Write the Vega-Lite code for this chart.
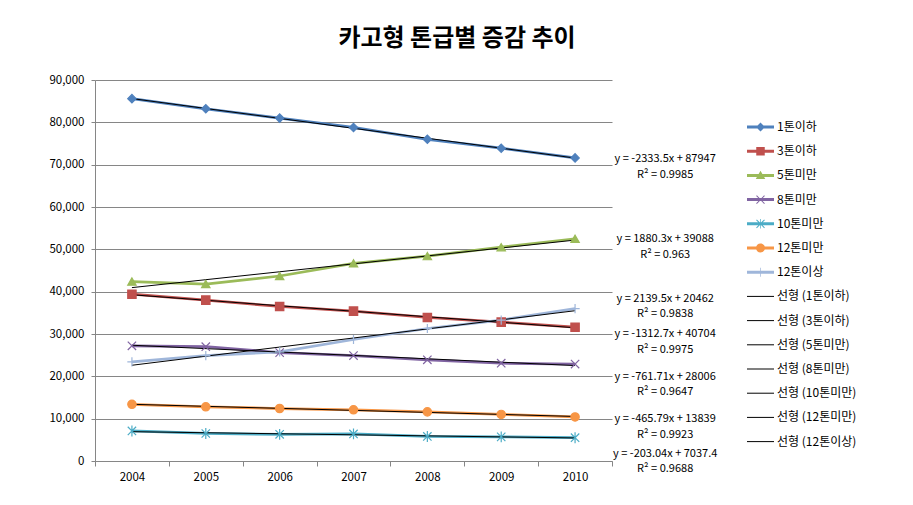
{
  "$schema": "https://vega.github.io/schema/vega-lite/v6.json",
  "width": 517,
  "height": 381,
  "autosize": {"type": "none"},
  "padding": {"left": 95, "top": 80, "right": 301, "bottom": 44},
  "background": "white",
  "title": {"text": "카고형 톤급별 증감 추이", "font": "Noto Sans CJK KR", "fontSize": 24, "fontWeight": "bold", "color": "black", "anchor": "middle", "dx": 103.5, "offset": 23},
  "config": {
    "view": {"stroke": null},
    "font": "Noto Sans CJK KR",
    "axis": {"labelFont": "Noto Sans CJK KR", "labelColor": "black", "labelFontSize": 11.5, "domainColor": "#868686", "tickColor": "#868686", "gridColor": "#868686", "title": null}
  },
  "datasets": {
    "main": [
      {"year": 2004, "series": "1톤이하", "trend": "선형 (1톤이하)", "value": 85600},
      {"year": 2005, "series": "1톤이하", "trend": "선형 (1톤이하)", "value": 83200},
      {"year": 2006, "series": "1톤이하", "trend": "선형 (1톤이하)", "value": 81000},
      {"year": 2007, "series": "1톤이하", "trend": "선형 (1톤이하)", "value": 78800},
      {"year": 2008, "series": "1톤이하", "trend": "선형 (1톤이하)", "value": 76000},
      {"year": 2009, "series": "1톤이하", "trend": "선형 (1톤이하)", "value": 73900},
      {"year": 2010, "series": "1톤이하", "trend": "선형 (1톤이하)", "value": 71600},
      {"year": 2004, "series": "3톤이하", "trend": "선형 (3톤이하)", "value": 39400},
      {"year": 2005, "series": "3톤이하", "trend": "선형 (3톤이하)", "value": 38000},
      {"year": 2006, "series": "3톤이하", "trend": "선형 (3톤이하)", "value": 36500},
      {"year": 2007, "series": "3톤이하", "trend": "선형 (3톤이하)", "value": 35400},
      {"year": 2008, "series": "3톤이하", "trend": "선형 (3톤이하)", "value": 33900},
      {"year": 2009, "series": "3톤이하", "trend": "선형 (3톤이하)", "value": 32800},
      {"year": 2010, "series": "3톤이하", "trend": "선형 (3톤이하)", "value": 31600},
      {"year": 2004, "series": "5톤미만", "trend": "선형 (5톤미만)", "value": 42400},
      {"year": 2005, "series": "5톤미만", "trend": "선형 (5톤미만)", "value": 41800},
      {"year": 2006, "series": "5톤미만", "trend": "선형 (5톤미만)", "value": 43700},
      {"year": 2007, "series": "5톤미만", "trend": "선형 (5톤미만)", "value": 46700},
      {"year": 2008, "series": "5톤미만", "trend": "선형 (5톤미만)", "value": 48400},
      {"year": 2009, "series": "5톤미만", "trend": "선형 (5톤미만)", "value": 50500},
      {"year": 2010, "series": "5톤미만", "trend": "선형 (5톤미만)", "value": 52500},
      {"year": 2004, "series": "8톤미만", "trend": "선형 (8톤미만)", "value": 27200},
      {"year": 2005, "series": "8톤미만", "trend": "선형 (8톤미만)", "value": 27000},
      {"year": 2006, "series": "8톤미만", "trend": "선형 (8톤미만)", "value": 25600},
      {"year": 2007, "series": "8톤미만", "trend": "선형 (8톤미만)", "value": 24900},
      {"year": 2008, "series": "8톤미만", "trend": "선형 (8톤미만)", "value": 23900},
      {"year": 2009, "series": "8톤미만", "trend": "선형 (8톤미만)", "value": 23100},
      {"year": 2010, "series": "8톤미만", "trend": "선형 (8톤미만)", "value": 22900},
      {"year": 2004, "series": "10톤미만", "trend": "선형 (10톤미만)", "value": 7100},
      {"year": 2005, "series": "10톤미만", "trend": "선형 (10톤미만)", "value": 6500},
      {"year": 2006, "series": "10톤미만", "trend": "선형 (10톤미만)", "value": 6300},
      {"year": 2007, "series": "10톤미만", "trend": "선형 (10톤미만)", "value": 6400},
      {"year": 2008, "series": "10톤미만", "trend": "선형 (10톤미만)", "value": 5800},
      {"year": 2009, "series": "10톤미만", "trend": "선형 (10톤미만)", "value": 5700},
      {"year": 2010, "series": "10톤미만", "trend": "선형 (10톤미만)", "value": 5500},
      {"year": 2004, "series": "12톤미만", "trend": "선형 (12톤미만)", "value": 13400},
      {"year": 2005, "series": "12톤미만", "trend": "선형 (12톤미만)", "value": 12800},
      {"year": 2006, "series": "12톤미만", "trend": "선형 (12톤미만)", "value": 12400},
      {"year": 2007, "series": "12톤미만", "trend": "선형 (12톤미만)", "value": 12100},
      {"year": 2008, "series": "12톤미만", "trend": "선형 (12톤미만)", "value": 11600},
      {"year": 2009, "series": "12톤미만", "trend": "선형 (12톤미만)", "value": 11000},
      {"year": 2010, "series": "12톤미만", "trend": "선형 (12톤미만)", "value": 10400},
      {"year": 2004, "series": "12톤이상", "trend": "선형 (12톤이상)", "value": 23400},
      {"year": 2005, "series": "12톤이상", "trend": "선형 (12톤이상)", "value": 24900},
      {"year": 2006, "series": "12톤이상", "trend": "선형 (12톤이상)", "value": 25800},
      {"year": 2007, "series": "12톤이상", "trend": "선형 (12톤이상)", "value": 28700},
      {"year": 2008, "series": "12톤이상", "trend": "선형 (12톤이상)", "value": 31300},
      {"year": 2009, "series": "12톤이상", "trend": "선형 (12톤이상)", "value": 33300},
      {"year": 2010, "series": "12톤이상", "trend": "선형 (12톤이상)", "value": 36000}
    ],
    "labels": [
      {"year": 2011.22, "value": 71221, "eq": "y = -2333.5x + 87947\nR² = 0.9985"},
      {"year": 2011.22, "value": 52323, "eq": "y = 1880.3x + 39088\nR² = 0.963"},
      {"year": 2011.22, "value": 38268, "eq": "y = 2139.5x + 20462\nR² = 0.9838"},
      {"year": 2011.22, "value": 29882, "eq": "y = -1312.7x + 40704\nR² = 0.9975"},
      {"year": 2011.22, "value": 19843, "eq": "y = -761.71x + 28006\nR² = 0.9647"},
      {"year": 2011.22, "value": 9921, "eq": "y = -465.79x + 13839\nR² = 0.9923"},
      {"year": 2011.22, "value": 1654, "eq": "y = -203.04x + 7037.4\nR² = 0.9688"}
    ]
  },
  "resolve": {"scale": {"color": "independent", "shape": "independent", "stroke": "independent"}},
  "layer": [
    {
      "data": {"name": "main"},
      "mark": {"type": "line", "strokeWidth": 2.75},
      "encoding": {
        "x": {"field": "year", "type": "quantitative", "scale": {"domain": [2003.5, 2010.5], "nice": false, "zero": false},
          "axis": {"values": [2003.5, 2004.5, 2005.5, 2006.5, 2007.5, 2008.5, 2009.5, 2010.5], "labelExpr": "datum.value < 2010 ? format(datum.value + 0.5, 'd') : ''", "labelOffset": 36.93, "grid": false, "tickSize": 5, "labelPadding": 5, "labelOverlap": false, "labelBound": false, "labelFlush": false}},
        "y": {"field": "value", "type": "quantitative", "scale": {"domain": [0, 90000], "nice": false},
          "axis": {"values": [0, 10000, 20000, 30000, 40000, 50000, 60000, 70000, 80000, 90000], "labelExpr": "format(datum.value, ',.0f')", "grid": true, "tickSize": 4, "labelPadding": 7}},
        "color": {"field": "series", "type": "nominal", "legend": null,
          "scale": {"domain": ["1톤이하", "3톤이하", "5톤미만", "8톤미만", "10톤미만", "12톤미만", "12톤이상"], "range": ["#4F81BD", "#C0504D", "#9BBB59", "#8064A2", "#4BACC6", "#F79646", "#9FB6DA"]}},
        "detail": {"field": "series"}
      }
    },
    {
      "data": {"name": "main"},
      "transform": [{"regression": "value", "on": "year", "groupby": ["series", "trend"]}],
      "mark": {"type": "line", "strokeWidth": 1, "color": "black"},
      "encoding": {
        "x": {"field": "year", "type": "quantitative"},
        "y": {"field": "value", "type": "quantitative"},
        "detail": {"field": "trend"}
      }
    },
    {
      "data": {"name": "main"},
      "mark": {"type": "point", "filled": true, "size": 70, "strokeWidth": 1.2, "opacity": 1},
      "encoding": {
        "x": {"field": "year", "type": "quantitative"},
        "y": {"field": "value", "type": "quantitative"},
        "color": {"field": "series", "type": "nominal", "legend": null,
          "scale": {"domain": ["1톤이하", "3톤이하", "5톤미만", "8톤미만", "10톤미만", "12톤미만", "12톤이상"], "range": ["#4F81BD", "#C0504D", "#9BBB59", "#8064A2", "#4BACC6", "#F79646", "#9FB6DA"]}},
        "stroke": {"field": "series", "type": "nominal", "legend": null,
          "scale": {"domain": ["1톤이하", "3톤이하", "5톤미만", "8톤미만", "10톤미만", "12톤미만", "12톤이상"], "range": ["#4F81BD", "#C0504D", "#9BBB59", "#8064A2", "#4BACC6", "#F79646", "#9FB6DA"]}},
        "shape": {"field": "series", "type": "nominal", "legend": null,
          "scale": {"domain": ["1톤이하", "3톤이하", "5톤미만", "8톤미만", "10톤미만", "12톤미만", "12톤이상"], "range": ["diamond", "square", "triangle-up", "M-1,-1L1,1M-1,1L1,-1", "M-1,-1L1,1M-1,1L1,-1M0,-1.3L0,1.3", "circle", "M0,-1.1L0,1.1M-1.1,0L1.1,0"]}}
      }
    },
    {
      "data": {"name": "labels"},
      "mark": {"type": "text", "align": "center", "baseline": "middle", "fontSize": 11, "lineHeight": 15.5, "lineBreak": "\n", "color": "black", "font": "Noto Sans CJK KR"},
      "encoding": {
        "x": {"field": "year", "type": "quantitative"},
        "y": {"field": "value", "type": "quantitative"},
        "text": {"field": "eq"}
      }
    },
    {
      "data": {"values": [{"series": "1톤이하"}]},
      "transform": [{"filter": "false"}],
      "mark": {"type": "point", "filled": true, "opacity": 1},
      "encoding": {
        "color": {"field": "series", "type": "nominal",
          "scale": {"domain": ["1톤이하", "3톤이하", "5톤미만", "8톤미만", "10톤미만", "12톤미만", "12톤이상", "선형 (1톤이하)", "선형 (3톤이하)", "선형 (5톤미만)", "선형 (8톤미만)", "선형 (10톤미만)", "선형 (12톤미만)", "선형 (12톤이상)"],
            "range": ["#4F81BD", "#C0504D", "#9BBB59", "#8064A2", "#4BACC6", "#F79646", "#9FB6DA", "black", "black", "black", "black", "black", "black", "black"]},
          "legend": {"orient": "none", "legendX": 659.5, "legendY": 41, "title": null, "symbolSize": 100, "symbolStrokeWidth": 0, "symbolOpacity": 1, "symbolOffset": 0, "labelFontSize": 12, "labelFont": "Noto Sans CJK KR", "labelColor": "black", "labelOffset": 10.5, "rowPadding": 12.2, "padding": 0, "labelLimit": 300}},
        "shape": {"field": "series", "type": "nominal",
          "scale": {"domain": ["1톤이하", "3톤이하", "5톤미만", "8톤미만", "10톤미만", "12톤미만", "12톤이상", "선형 (1톤이하)", "선형 (3톤이하)", "선형 (5톤미만)", "선형 (8톤미만)", "선형 (10톤미만)", "선형 (12톤미만)", "선형 (12톤이상)"],
            "range": [
              "M-2.7,-0.3H2.7V0.3H-2.7ZM0,-0.9L0.9,0L0,0.9L-0.9,0Z",
              "M-2.7,-0.3H2.7V0.3H-2.7ZM-0.85,-0.85H0.85V0.85H-0.85Z",
              "M-2.7,-0.3H2.7V0.3H-2.7ZM0,-0.95L0.95,0.7H-0.95Z",
              "M-2.7,-0.3H2.7V0.3H-2.7ZM-0.87,-0.73L-0.73,-0.87L0.87,0.73L0.73,0.87ZM-0.87,0.73L0.73,-0.87L0.87,-0.73L-0.73,0.87Z",
              "M-2.7,-0.3H2.7V0.3H-2.7ZM-0.87,-0.73L-0.73,-0.87L0.87,0.73L0.73,0.87ZM-0.87,0.73L0.73,-0.87L0.87,-0.73L-0.73,0.87ZM-0.07,-0.95H0.07V0.95H-0.07Z",
              "M-2.7,-0.3H2.7V0.3H-2.7ZM-0.9,0A0.9,0.9,0,1,1,0.9,0A0.9,0.9,0,1,1,-0.9,0Z",
              "M-2.7,-0.3H2.7V0.3H-2.7ZM-0.07,-0.9H0.07V0.9H-0.07Z",
              "M-2.7,-0.1H2.7V0.1H-2.7Z",
              "M-2.7,-0.1H2.7V0.1H-2.7Z",
              "M-2.7,-0.1H2.7V0.1H-2.7Z",
              "M-2.7,-0.1H2.7V0.1H-2.7Z",
              "M-2.7,-0.1H2.7V0.1H-2.7Z",
              "M-2.7,-0.1H2.7V0.1H-2.7Z",
              "M-2.7,-0.1H2.7V0.1H-2.7Z"
            ]},
          "legend": {"orient": "none", "legendX": 659.5, "legendY": 41, "title": null, "symbolSize": 100, "symbolStrokeWidth": 0, "symbolOpacity": 1, "symbolOffset": 0, "labelFontSize": 12, "labelFont": "Noto Sans CJK KR", "labelColor": "black", "labelOffset": 10.5, "rowPadding": 12.2, "padding": 0, "labelLimit": 300}}
      }
    }
  ]
}
